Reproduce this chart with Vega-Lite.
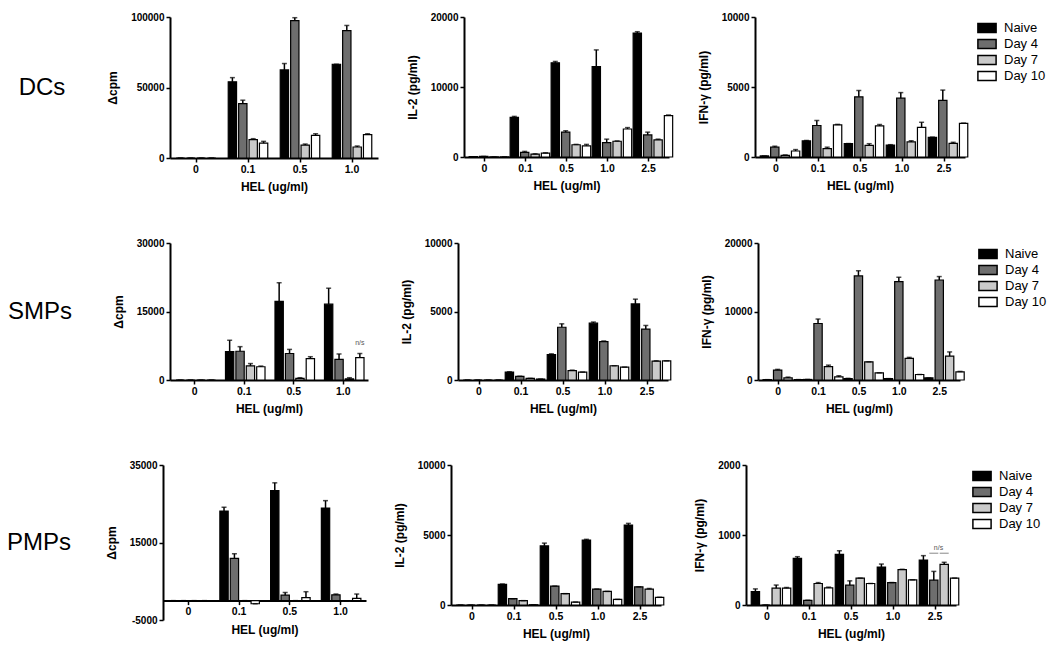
{
  "$schema": "https://vega.github.io/schema/vega-lite/v6.json",
  "background": "white",
  "padding": {"left": 0, "top": 12, "right": 5, "bottom": 5},
  "datasets": {
    "dc_cpm": [
      {"dose": "0", "group": "Naive", "value": 0, "hi": 0},
      {"dose": "0", "group": "Day 4", "value": 0, "hi": 0},
      {"dose": "0", "group": "Day 7", "value": 0, "hi": 0},
      {"dose": "0", "group": "Day 10", "value": 0, "hi": 0},
      {"dose": "0.1", "group": "Naive", "value": 54000, "hi": 57000},
      {"dose": "0.1", "group": "Day 4", "value": 38500, "hi": 41000},
      {"dose": "0.1", "group": "Day 7", "value": 13000, "hi": 13700},
      {"dose": "0.1", "group": "Day 10", "value": 10500, "hi": 11800},
      {"dose": "0.5", "group": "Naive", "value": 62500, "hi": 67000},
      {"dose": "0.5", "group": "Day 4", "value": 97500, "hi": 99500},
      {"dose": "0.5", "group": "Day 7", "value": 9200, "hi": 9900},
      {"dose": "0.5", "group": "Day 10", "value": 16000, "hi": 17200},
      {"dose": "1.0", "group": "Naive", "value": 66500, "hi": 66500},
      {"dose": "1.0", "group": "Day 4", "value": 90300, "hi": 94000},
      {"dose": "1.0", "group": "Day 7", "value": 7800, "hi": 8500},
      {"dose": "1.0", "group": "Day 10", "value": 16600, "hi": 17200}
    ],
    "dc_il2": [
      {"dose": "0", "group": "Naive", "value": 40, "hi": 40},
      {"dose": "0", "group": "Day 4", "value": 80, "hi": 80},
      {"dose": "0", "group": "Day 7", "value": 20, "hi": 20},
      {"dose": "0", "group": "Day 10", "value": 20, "hi": 20},
      {"dose": "0.1", "group": "Naive", "value": 5650, "hi": 5800},
      {"dose": "0.1", "group": "Day 4", "value": 650, "hi": 800},
      {"dose": "0.1", "group": "Day 7", "value": 400, "hi": 450},
      {"dose": "0.1", "group": "Day 10", "value": 550, "hi": 600},
      {"dose": "0.5", "group": "Naive", "value": 13450, "hi": 13650},
      {"dose": "0.5", "group": "Day 4", "value": 3550, "hi": 3750},
      {"dose": "0.5", "group": "Day 7", "value": 1750, "hi": 1800},
      {"dose": "0.5", "group": "Day 10", "value": 1600, "hi": 1800},
      {"dose": "1.0", "group": "Naive", "value": 12900, "hi": 15300},
      {"dose": "1.0", "group": "Day 4", "value": 2050, "hi": 2550},
      {"dose": "1.0", "group": "Day 7", "value": 2250, "hi": 2300},
      {"dose": "1.0", "group": "Day 10", "value": 4000, "hi": 4200},
      {"dose": "2.5", "group": "Naive", "value": 17700, "hi": 17900},
      {"dose": "2.5", "group": "Day 4", "value": 3150, "hi": 3550},
      {"dose": "2.5", "group": "Day 7", "value": 2450, "hi": 2550},
      {"dose": "2.5", "group": "Day 10", "value": 5900, "hi": 6000}
    ],
    "dc_ifn": [
      {"dose": "0", "group": "Naive", "value": 80, "hi": 80},
      {"dose": "0", "group": "Day 4", "value": 700, "hi": 770},
      {"dose": "0", "group": "Day 7", "value": 120, "hi": 150},
      {"dose": "0", "group": "Day 10", "value": 430, "hi": 530},
      {"dose": "0.1", "group": "Naive", "value": 1150, "hi": 1180},
      {"dose": "0.1", "group": "Day 4", "value": 2250, "hi": 2600},
      {"dose": "0.1", "group": "Day 7", "value": 600, "hi": 700},
      {"dose": "0.1", "group": "Day 10", "value": 2300, "hi": 2330},
      {"dose": "0.5", "group": "Naive", "value": 960, "hi": 960},
      {"dose": "0.5", "group": "Day 4", "value": 4300, "hi": 4750},
      {"dose": "0.5", "group": "Day 7", "value": 830, "hi": 950},
      {"dose": "0.5", "group": "Day 10", "value": 2220, "hi": 2320},
      {"dose": "1.0", "group": "Naive", "value": 850, "hi": 880},
      {"dose": "1.0", "group": "Day 4", "value": 4200, "hi": 4600},
      {"dose": "1.0", "group": "Day 7", "value": 1080, "hi": 1160},
      {"dose": "1.0", "group": "Day 10", "value": 2120, "hi": 2480},
      {"dose": "2.5", "group": "Naive", "value": 1400, "hi": 1420},
      {"dose": "2.5", "group": "Day 4", "value": 4050, "hi": 4780},
      {"dose": "2.5", "group": "Day 7", "value": 980, "hi": 1050},
      {"dose": "2.5", "group": "Day 10", "value": 2400, "hi": 2420}
    ],
    "smp_cpm": [
      {"dose": "0", "group": "Naive", "value": 0, "hi": 0},
      {"dose": "0", "group": "Day 4", "value": 0, "hi": 0},
      {"dose": "0", "group": "Day 7", "value": 0, "hi": 0},
      {"dose": "0", "group": "Day 10", "value": 0, "hi": 0},
      {"dose": "0.1", "group": "Naive", "value": 6200, "hi": 8700},
      {"dose": "0.1", "group": "Day 4", "value": 6300, "hi": 7300},
      {"dose": "0.1", "group": "Day 7", "value": 3100, "hi": 3600},
      {"dose": "0.1", "group": "Day 10", "value": 2900, "hi": 3050},
      {"dose": "0.5", "group": "Naive", "value": 17200, "hi": 21300},
      {"dose": "0.5", "group": "Day 4", "value": 5800, "hi": 6700},
      {"dose": "0.5", "group": "Day 7", "value": 350, "hi": 500},
      {"dose": "0.5", "group": "Day 10", "value": 4700, "hi": 5100},
      {"dose": "1.0", "group": "Naive", "value": 16600, "hi": 20100},
      {"dose": "1.0", "group": "Day 4", "value": 4500, "hi": 5700},
      {"dose": "1.0", "group": "Day 7", "value": 250, "hi": 500},
      {"dose": "1.0", "group": "Day 10", "value": 4900, "hi": 5800}
    ],
    "smp_il2": [
      {"dose": "0", "group": "Naive", "value": 0, "hi": 0},
      {"dose": "0", "group": "Day 4", "value": 0, "hi": 0},
      {"dose": "0", "group": "Day 7", "value": 0, "hi": 0},
      {"dose": "0", "group": "Day 10", "value": 0, "hi": 0},
      {"dose": "0.1", "group": "Naive", "value": 580, "hi": 600},
      {"dose": "0.1", "group": "Day 4", "value": 270, "hi": 280},
      {"dose": "0.1", "group": "Day 7", "value": 120, "hi": 120},
      {"dose": "0.1", "group": "Day 10", "value": 70, "hi": 70},
      {"dose": "0.5", "group": "Naive", "value": 1850, "hi": 1910},
      {"dose": "0.5", "group": "Day 4", "value": 3850, "hi": 4100},
      {"dose": "0.5", "group": "Day 7", "value": 680, "hi": 720},
      {"dose": "0.5", "group": "Day 10", "value": 570, "hi": 580},
      {"dose": "1.0", "group": "Naive", "value": 4150, "hi": 4230},
      {"dose": "1.0", "group": "Day 4", "value": 2800, "hi": 2850},
      {"dose": "1.0", "group": "Day 7", "value": 1040, "hi": 1040},
      {"dose": "1.0", "group": "Day 10", "value": 940, "hi": 940},
      {"dose": "2.5", "group": "Naive", "value": 5550, "hi": 5900},
      {"dose": "2.5", "group": "Day 4", "value": 3720, "hi": 3980},
      {"dose": "2.5", "group": "Day 7", "value": 1380, "hi": 1400},
      {"dose": "2.5", "group": "Day 10", "value": 1400, "hi": 1400}
    ],
    "smp_ifn": [
      {"dose": "0", "group": "Naive", "value": 50, "hi": 50},
      {"dose": "0", "group": "Day 4", "value": 1450, "hi": 1550},
      {"dose": "0", "group": "Day 7", "value": 300, "hi": 420},
      {"dose": "0", "group": "Day 10", "value": 60, "hi": 60},
      {"dose": "0.1", "group": "Naive", "value": 80, "hi": 80},
      {"dose": "0.1", "group": "Day 4", "value": 8250, "hi": 8900},
      {"dose": "0.1", "group": "Day 7", "value": 1950, "hi": 2170},
      {"dose": "0.1", "group": "Day 10", "value": 450, "hi": 620},
      {"dose": "0.5", "group": "Naive", "value": 220, "hi": 240},
      {"dose": "0.5", "group": "Day 4", "value": 15200, "hi": 15950},
      {"dose": "0.5", "group": "Day 7", "value": 2650, "hi": 2650},
      {"dose": "0.5", "group": "Day 10", "value": 1050, "hi": 1050},
      {"dose": "1.0", "group": "Naive", "value": 200, "hi": 200},
      {"dose": "1.0", "group": "Day 4", "value": 14350, "hi": 15000},
      {"dose": "1.0", "group": "Day 7", "value": 3150, "hi": 3300},
      {"dose": "1.0", "group": "Day 10", "value": 800, "hi": 800},
      {"dose": "2.5", "group": "Naive", "value": 300, "hi": 300},
      {"dose": "2.5", "group": "Day 4", "value": 14600, "hi": 15100},
      {"dose": "2.5", "group": "Day 7", "value": 3500, "hi": 4100},
      {"dose": "2.5", "group": "Day 10", "value": 1200, "hi": 1250}
    ],
    "pmp_cpm": [
      {"dose": "0", "group": "Naive", "value": 0, "hi": 0},
      {"dose": "0", "group": "Day 4", "value": 0, "hi": 0},
      {"dose": "0", "group": "Day 7", "value": 0, "hi": 0},
      {"dose": "0", "group": "Day 10", "value": 0, "hi": 0},
      {"dose": "0.1", "group": "Naive", "value": 23100, "hi": 24100},
      {"dose": "0.1", "group": "Day 4", "value": 10900, "hi": 12100},
      {"dose": "0.1", "group": "Day 7", "value": 0, "hi": 0},
      {"dose": "0.1", "group": "Day 10", "value": -800, "hi": -800},
      {"dose": "0.5", "group": "Naive", "value": 28400, "hi": 30400},
      {"dose": "0.5", "group": "Day 4", "value": 1400, "hi": 2100},
      {"dose": "0.5", "group": "Day 7", "value": 0, "hi": 0},
      {"dose": "0.5", "group": "Day 10", "value": 800, "hi": 2300},
      {"dose": "1.0", "group": "Naive", "value": 23900, "hi": 25800},
      {"dose": "1.0", "group": "Day 4", "value": 1500, "hi": 1700},
      {"dose": "1.0", "group": "Day 7", "value": -150, "hi": -150},
      {"dose": "1.0", "group": "Day 10", "value": 600, "hi": 1700}
    ],
    "pmp_il2": [
      {"dose": "0", "group": "Naive", "value": 0, "hi": 0},
      {"dose": "0", "group": "Day 4", "value": 0, "hi": 0},
      {"dose": "0", "group": "Day 7", "value": 0, "hi": 0},
      {"dose": "0", "group": "Day 10", "value": 0, "hi": 0},
      {"dose": "0.1", "group": "Naive", "value": 1470, "hi": 1500},
      {"dose": "0.1", "group": "Day 4", "value": 450, "hi": 450},
      {"dose": "0.1", "group": "Day 7", "value": 310, "hi": 310},
      {"dose": "0.1", "group": "Day 10", "value": 20, "hi": 20},
      {"dose": "0.5", "group": "Naive", "value": 4220, "hi": 4420},
      {"dose": "0.5", "group": "Day 4", "value": 1350, "hi": 1350},
      {"dose": "0.5", "group": "Day 7", "value": 810, "hi": 810},
      {"dose": "0.5", "group": "Day 10", "value": 210, "hi": 210},
      {"dose": "1.0", "group": "Naive", "value": 4640, "hi": 4690},
      {"dose": "1.0", "group": "Day 4", "value": 1140, "hi": 1140},
      {"dose": "1.0", "group": "Day 7", "value": 970, "hi": 970},
      {"dose": "1.0", "group": "Day 10", "value": 400, "hi": 400},
      {"dose": "2.5", "group": "Naive", "value": 5710, "hi": 5830},
      {"dose": "2.5", "group": "Day 4", "value": 1300, "hi": 1300},
      {"dose": "2.5", "group": "Day 7", "value": 1140, "hi": 1180},
      {"dose": "2.5", "group": "Day 10", "value": 550, "hi": 550}
    ],
    "pmp_ifn": [
      {"dose": "0", "group": "Naive", "value": 190, "hi": 230},
      {"dose": "0", "group": "Day 4", "value": 0, "hi": 0},
      {"dose": "0", "group": "Day 7", "value": 240, "hi": 285},
      {"dose": "0", "group": "Day 10", "value": 240, "hi": 250},
      {"dose": "0.1", "group": "Naive", "value": 667, "hi": 690},
      {"dose": "0.1", "group": "Day 4", "value": 67, "hi": 67},
      {"dose": "0.1", "group": "Day 7", "value": 307, "hi": 320},
      {"dose": "0.1", "group": "Day 10", "value": 245, "hi": 255},
      {"dose": "0.5", "group": "Naive", "value": 724, "hi": 775},
      {"dose": "0.5", "group": "Day 4", "value": 283, "hi": 345},
      {"dose": "0.5", "group": "Day 7", "value": 384, "hi": 384},
      {"dose": "0.5", "group": "Day 10", "value": 307, "hi": 307},
      {"dose": "1.0", "group": "Naive", "value": 542, "hi": 585},
      {"dose": "1.0", "group": "Day 4", "value": 321, "hi": 321},
      {"dose": "1.0", "group": "Day 7", "value": 504, "hi": 510},
      {"dose": "1.0", "group": "Day 10", "value": 360, "hi": 360},
      {"dose": "2.5", "group": "Naive", "value": 643, "hi": 705},
      {"dose": "2.5", "group": "Day 4", "value": 355, "hi": 480},
      {"dose": "2.5", "group": "Day 7", "value": 580, "hi": 610},
      {"dose": "2.5", "group": "Day 10", "value": 384, "hi": 384}
    ],
    "smp_ns": [{"dose": "1.0", "group": "Day 10", "value": 8000, "label": "n/s"}],
    "pmp_ns_line": [
      {"dose": "2.5", "group": "Day 4", "value": 740},
      {"dose": "2.5", "group": "Day 7", "value": 740}
    ],
    "pmp_ns_text": [{"dose": "2.5", "group": "Day 4", "value": 740, "label": "n/s"}]
  },
  "vconcat": [
    {
      "hconcat": [
        {"width": 84, "height": 141, "data": {"values": [{"label": "DCs"}]}, "mark": {"type": "text", "fontSize": 24, "font": "Liberation Sans", "color": "black"}, "encoding": {"text": {"field": "label"}}},
        {
          "width": 208, "height": 141, "data": {"name": "dc_cpm"},
          "encoding": {
            "x": {"field": "dose", "type": "nominal", "scale": {"domain": ["0", "0.1", "0.5", "1.0"], "paddingInner": 0.2, "paddingOuter": 0.1}, "axis": {"title": "HEL (ug/ml)"}},
            "xOffset": {"field": "group", "type": "nominal", "scale": {"domain": ["Naive", "Day 4", "Day 7", "Day 10"], "paddingInner": 0.2, "paddingOuter": 0.1}},
            "y": {"field": "value", "type": "quantitative", "scale": {"domain": [0, 100000]}, "axis": {"title": "Δcpm", "values": [0, 50000, 100000], "format": "d"}}
          },
          "layer": [
            {"mark": {"type": "bar", "stroke": "black", "strokeWidth": 1.2},
             "encoding": {"fill": {"field": "group", "type": "nominal", "scale": {"domain": ["Naive", "Day 4", "Day 7", "Day 10"], "range": ["#000000", "#6e6e6e", "#cacaca", "#ffffff"]}, "legend": null}}},
            {"mark": {"type": "rule", "color": "black", "strokeWidth": 1.5}, "encoding": {"y2": {"field": "hi"}}},
            {"mark": {"type": "tick", "color": "black", "size": 5, "thickness": 1.5}, "encoding": {"y": {"field": "hi", "type": "quantitative", "scale": {"domain": [0, 100000]}, "axis": {"title": "Δcpm", "values": [0, 50000, 100000], "format": "d"}}}}
          ]
        },
        {
          "width": 205, "height": 140, "data": {"name": "dc_il2"},
          "encoding": {
            "x": {"field": "dose", "type": "nominal", "scale": {"domain": ["0", "0.1", "0.5", "1.0", "2.5"], "paddingInner": 0.2, "paddingOuter": 0.1}, "axis": {"title": "HEL (ug/ml)"}},
            "xOffset": {"field": "group", "type": "nominal", "scale": {"domain": ["Naive", "Day 4", "Day 7", "Day 10"], "paddingInner": 0.2, "paddingOuter": 0.1}},
            "y": {"field": "value", "type": "quantitative", "scale": {"domain": [0, 20000]}, "axis": {"title": "IL-2 (pg/ml)", "values": [0, 10000, 20000], "format": "d"}}
          },
          "layer": [
            {"mark": {"type": "bar", "stroke": "black", "strokeWidth": 1.2},
             "encoding": {"fill": {"field": "group", "type": "nominal", "scale": {"domain": ["Naive", "Day 4", "Day 7", "Day 10"], "range": ["#000000", "#6e6e6e", "#cacaca", "#ffffff"]}, "legend": null}}},
            {"mark": {"type": "rule", "color": "black", "strokeWidth": 1.5}, "encoding": {"y2": {"field": "hi"}}},
            {"mark": {"type": "tick", "color": "black", "size": 5, "thickness": 1.5}, "encoding": {"y": {"field": "hi", "type": "quantitative", "scale": {"domain": [0, 20000]}, "axis": {"title": "IL-2 (pg/ml)", "values": [0, 10000, 20000], "format": "d"}}}}
          ]
        },
        {
          "width": 210, "height": 140, "data": {"name": "dc_ifn"},
          "encoding": {
            "x": {"field": "dose", "type": "nominal", "scale": {"domain": ["0", "0.1", "0.5", "1.0", "2.5"], "paddingInner": 0.2, "paddingOuter": 0.1}, "axis": {"title": "HEL (ug/ml)"}},
            "xOffset": {"field": "group", "type": "nominal", "scale": {"domain": ["Naive", "Day 4", "Day 7", "Day 10"], "paddingInner": 0.2, "paddingOuter": 0.1}},
            "y": {"field": "value", "type": "quantitative", "scale": {"domain": [0, 10000]}, "axis": {"title": "IFN-γ (pg/ml)", "values": [0, 5000, 10000], "format": "d"}}
          },
          "layer": [
            {"mark": {"type": "bar", "stroke": "black", "strokeWidth": 1.2},
             "encoding": {"fill": {"field": "group", "type": "nominal", "scale": {"domain": ["Naive", "Day 4", "Day 7", "Day 10"], "range": ["#000000", "#6e6e6e", "#cacaca", "#ffffff"]}, "legend": {"title": null, "orient": "right", "offset": 11}}}},
            {"mark": {"type": "rule", "color": "black", "strokeWidth": 1.5}, "encoding": {"y2": {"field": "hi"}}},
            {"mark": {"type": "tick", "color": "black", "size": 5, "thickness": 1.5}, "encoding": {"y": {"field": "hi", "type": "quantitative", "scale": {"domain": [0, 10000]}, "axis": {"title": "IFN-γ (pg/ml)", "values": [0, 5000, 10000], "format": "d"}}}}
          ]
        }
      ],
      "spacing": 86,
      "bounds": "flush",
      "resolve": {"legend": {"fill": "independent"}}
    },
    {
      "hconcat": [
        {"width": 80, "height": 137, "data": {"values": [{"label": "SMPs"}]}, "mark": {"type": "text", "fontSize": 24, "font": "Liberation Sans", "color": "black"}, "encoding": {"text": {"field": "label"}}},
        {
          "width": 198, "height": 137, "data": {"name": "smp_cpm"},
          "encoding": {
            "x": {"field": "dose", "type": "nominal", "scale": {"domain": ["0", "0.1", "0.5", "1.0"], "paddingInner": 0.2, "paddingOuter": 0.1}, "axis": {"title": "HEL (ug/ml)"}},
            "xOffset": {"field": "group", "type": "nominal", "scale": {"domain": ["Naive", "Day 4", "Day 7", "Day 10"], "paddingInner": 0.2, "paddingOuter": 0.1}},
            "y": {"field": "value", "type": "quantitative", "scale": {"domain": [0, 30000]}, "axis": {"title": "Δcpm", "values": [0, 15000, 30000], "format": "d"}}
          },
          "layer": [
            {"mark": {"type": "bar", "stroke": "black", "strokeWidth": 1.2},
             "encoding": {"fill": {"field": "group", "type": "nominal", "scale": {"domain": ["Naive", "Day 4", "Day 7", "Day 10"], "range": ["#000000", "#6e6e6e", "#cacaca", "#ffffff"]}, "legend": null}}},
            {"mark": {"type": "rule", "color": "black", "strokeWidth": 1.5}, "encoding": {"y2": {"field": "hi"}}},
            {"mark": {"type": "tick", "color": "black", "size": 5, "thickness": 1.5}, "encoding": {"y": {"field": "hi", "type": "quantitative", "scale": {"domain": [0, 30000]}, "axis": {"title": "Δcpm", "values": [0, 15000, 30000], "format": "d"}}}},
            {"data": {"name": "smp_ns"}, "mark": {"type": "text", "fontSize": 7, "color": "#555555", "font": "Liberation Sans"}, "encoding": {"text": {"field": "label"}}}
          ]
        },
        {
          "width": 210, "height": 137, "data": {"name": "smp_il2"},
          "encoding": {
            "x": {"field": "dose", "type": "nominal", "scale": {"domain": ["0", "0.1", "0.5", "1.0", "2.5"], "paddingInner": 0.2, "paddingOuter": 0.1}, "axis": {"title": "HEL (ug/ml)"}},
            "xOffset": {"field": "group", "type": "nominal", "scale": {"domain": ["Naive", "Day 4", "Day 7", "Day 10"], "paddingInner": 0.2, "paddingOuter": 0.1}},
            "y": {"field": "value", "type": "quantitative", "scale": {"domain": [0, 10000]}, "axis": {"title": "IL-2 (pg/ml)", "values": [0, 5000, 10000], "format": "d"}}
          },
          "layer": [
            {"mark": {"type": "bar", "stroke": "black", "strokeWidth": 1.2},
             "encoding": {"fill": {"field": "group", "type": "nominal", "scale": {"domain": ["Naive", "Day 4", "Day 7", "Day 10"], "range": ["#000000", "#6e6e6e", "#cacaca", "#ffffff"]}, "legend": null}}},
            {"mark": {"type": "rule", "color": "black", "strokeWidth": 1.5}, "encoding": {"y2": {"field": "hi"}}},
            {"mark": {"type": "tick", "color": "black", "size": 5, "thickness": 1.5}, "encoding": {"y": {"field": "hi", "type": "quantitative", "scale": {"domain": [0, 10000]}, "axis": {"title": "IL-2 (pg/ml)", "values": [0, 5000, 10000], "format": "d"}}}}
          ]
        },
        {
          "width": 202, "height": 137, "data": {"name": "smp_ifn"},
          "encoding": {
            "x": {"field": "dose", "type": "nominal", "scale": {"domain": ["0", "0.1", "0.5", "1.0", "2.5"], "paddingInner": 0.2, "paddingOuter": 0.1}, "axis": {"title": "HEL (ug/ml)"}},
            "xOffset": {"field": "group", "type": "nominal", "scale": {"domain": ["Naive", "Day 4", "Day 7", "Day 10"], "paddingInner": 0.2, "paddingOuter": 0.1}},
            "y": {"field": "value", "type": "quantitative", "scale": {"domain": [0, 20000]}, "axis": {"title": "IFN-γ (pg/ml)", "values": [0, 10000, 20000], "format": "d"}}
          },
          "layer": [
            {"mark": {"type": "bar", "stroke": "black", "strokeWidth": 1.2},
             "encoding": {"fill": {"field": "group", "type": "nominal", "scale": {"domain": ["Naive", "Day 4", "Day 7", "Day 10"], "range": ["#000000", "#6e6e6e", "#cacaca", "#ffffff"]}, "legend": {"title": null, "orient": "right", "offset": 17}}}},
            {"mark": {"type": "rule", "color": "black", "strokeWidth": 1.5}, "encoding": {"y2": {"field": "hi"}}},
            {"mark": {"type": "tick", "color": "black", "size": 5, "thickness": 1.5}, "encoding": {"y": {"field": "hi", "type": "quantitative", "scale": {"domain": [0, 20000]}, "axis": {"title": "IFN-γ (pg/ml)", "values": [0, 10000, 20000], "format": "d"}}}}
          ]
        }
      ],
      "spacing": 90,
      "bounds": "flush",
      "resolve": {"legend": {"fill": "independent"}}
    },
    {
      "hconcat": [
        {"width": 78, "height": 155, "data": {"values": [{"label": "PMPs"}]}, "mark": {"type": "text", "fontSize": 24, "font": "Liberation Sans", "color": "black"}, "encoding": {"text": {"field": "label"}}},
        {
          "width": 203, "height": 155, "data": {"name": "pmp_cpm"},
          "encoding": {
            "x": {"field": "dose", "type": "nominal", "scale": {"domain": ["0", "0.1", "0.5", "1.0"], "paddingInner": 0.2, "paddingOuter": 0.1}, "axis": {"title": "HEL (ug/ml)", "offset": -19.4}},
            "xOffset": {"field": "group", "type": "nominal", "scale": {"domain": ["Naive", "Day 4", "Day 7", "Day 10"], "paddingInner": 0.2, "paddingOuter": 0.1}},
            "y": {"field": "value", "type": "quantitative", "scale": {"domain": [-5000, 35000]}, "axis": {"title": "Δcpm", "values": [-5000, 15000, 35000], "labelExpr": "'' + datum.value"}}
          },
          "layer": [
            {"mark": {"type": "bar", "stroke": "black", "strokeWidth": 1.2},
             "encoding": {"fill": {"field": "group", "type": "nominal", "scale": {"domain": ["Naive", "Day 4", "Day 7", "Day 10"], "range": ["#000000", "#6e6e6e", "#cacaca", "#ffffff"]}, "legend": null}}},
            {"mark": {"type": "rule", "color": "black", "strokeWidth": 1.5}, "encoding": {"y2": {"field": "hi"}}},
            {"mark": {"type": "tick", "color": "black", "size": 5, "thickness": 1.5}, "encoding": {"y": {"field": "hi", "type": "quantitative", "scale": {"domain": [-5000, 35000]}, "axis": {"title": "Δcpm", "values": [-5000, 15000, 35000], "labelExpr": "'' + datum.value"}}}}
          ]
        },
        {
          "width": 210, "height": 140, "data": {"name": "pmp_il2"},
          "encoding": {
            "x": {"field": "dose", "type": "nominal", "scale": {"domain": ["0", "0.1", "0.5", "1.0", "2.5"], "paddingInner": 0.2, "paddingOuter": 0.1}, "axis": {"title": "HEL (ug/ml)"}},
            "xOffset": {"field": "group", "type": "nominal", "scale": {"domain": ["Naive", "Day 4", "Day 7", "Day 10"], "paddingInner": 0.2, "paddingOuter": 0.1}},
            "y": {"field": "value", "type": "quantitative", "scale": {"domain": [0, 10000]}, "axis": {"title": "IL-2 (pg/ml)", "values": [0, 5000, 10000], "format": "d"}}
          },
          "layer": [
            {"mark": {"type": "bar", "stroke": "black", "strokeWidth": 1.2},
             "encoding": {"fill": {"field": "group", "type": "nominal", "scale": {"domain": ["Naive", "Day 4", "Day 7", "Day 10"], "range": ["#000000", "#6e6e6e", "#cacaca", "#ffffff"]}, "legend": null}}},
            {"mark": {"type": "rule", "color": "black", "strokeWidth": 1.5}, "encoding": {"y2": {"field": "hi"}}},
            {"mark": {"type": "tick", "color": "black", "size": 5, "thickness": 1.5}, "encoding": {"y": {"field": "hi", "type": "quantitative", "scale": {"domain": [0, 10000]}, "axis": {"title": "IL-2 (pg/ml)", "values": [0, 5000, 10000], "format": "d"}}}}
          ]
        },
        {
          "width": 210, "height": 140, "data": {"name": "pmp_ifn"},
          "encoding": {
            "x": {"field": "dose", "type": "nominal", "scale": {"domain": ["0", "0.1", "0.5", "1.0", "2.5"], "paddingInner": 0.2, "paddingOuter": 0.1}, "axis": {"title": "HEL (ug/ml)"}},
            "xOffset": {"field": "group", "type": "nominal", "scale": {"domain": ["Naive", "Day 4", "Day 7", "Day 10"], "paddingInner": 0.2, "paddingOuter": 0.1}},
            "y": {"field": "value", "type": "quantitative", "scale": {"domain": [0, 2000]}, "axis": {"title": "IFN-γ (pg/ml)", "values": [0, 1000, 2000], "format": "d"}}
          },
          "layer": [
            {"mark": {"type": "bar", "stroke": "black", "strokeWidth": 1.2},
             "encoding": {"fill": {"field": "group", "type": "nominal", "scale": {"domain": ["Naive", "Day 4", "Day 7", "Day 10"], "range": ["#000000", "#6e6e6e", "#cacaca", "#ffffff"]}, "legend": {"title": null, "orient": "right", "offset": 15}}}},
            {"mark": {"type": "rule", "color": "black", "strokeWidth": 1.5}, "encoding": {"y2": {"field": "hi"}}},
            {"mark": {"type": "tick", "color": "black", "size": 5, "thickness": 1.5}, "encoding": {"y": {"field": "hi", "type": "quantitative", "scale": {"domain": [0, 2000]}, "axis": {"title": "IFN-γ (pg/ml)", "values": [0, 1000, 2000], "format": "d"}}}},
            {"data": {"name": "pmp_ns_line"}, "mark": {"type": "tick", "color": "#555555", "size": 9, "thickness": 1}},
            {"data": {"name": "pmp_ns_text"}, "mark": {"type": "text", "fontSize": 7, "color": "#555555", "font": "Liberation Sans", "align": "left", "baseline": "bottom", "dy": -2}, "encoding": {"text": {"field": "label"}}}
          ]
        }
      ],
      "spacing": 85,
      "bounds": "flush",
      "resolve": {"legend": {"fill": "independent"}}
    }
  ],
  "spacing": 45,
  "resolve": {"legend": {"fill": "independent"}},
  "config": {
    "view": {"stroke": null},
    "font": "Liberation Sans",
    "axis": {"domainColor": "black", "domainWidth": 2, "tickColor": "black", "tickWidth": 1.5, "tickSize": 4, "labelColor": "black", "labelFont": "Liberation Sans", "labelFontWeight": "bold", "labelFontSize": 10, "titleColor": "black", "titleFont": "Liberation Sans", "titleFontWeight": "bold", "titleFontSize": 11, "grid": false},
    "axisX": {"labelAngle": 0, "labelPadding": 2, "titlePadding": 7, "titleFontSize": 12, "labelFontSize": 10.5},
    "axisY": {"labelPadding": 2, "titlePadding": 11, "titleFontSize": 12},
    "legend": {"padding": 3, "labelFont": "Liberation Sans", "labelFontSize": 13, "labelColor": "black", "labelOffset": 9, "symbolType": "M-1.3,-0.65H1.3V0.65H-1.3Z", "symbolSize": 196, "symbolStrokeColor": "black", "symbolStrokeWidth": 1.5, "symbolOpacity": 1, "rowPadding": 0}
  }
}
